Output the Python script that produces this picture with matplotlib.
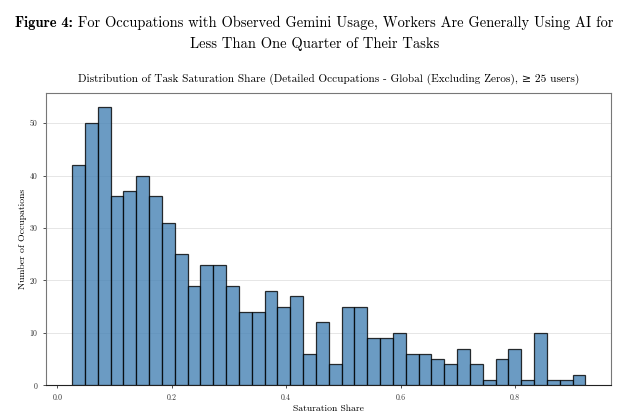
import numpy as np
import matplotlib
matplotlib.use("Agg")
import matplotlib.pyplot as plt

plt.rcParams['font.family'] = ['cmr10', 'DejaVu Serif']
plt.rcParams['mathtext.fontset'] = 'cm'
plt.rcParams['axes.unicode_minus'] = False
plt.rcParams['axes.formatter.use_mathtext'] = False

# Conteos por bin (40 bins entre min y max de la saturación)
share_min = 0.0256
share_max = 0.923
counts = [42, 50, 53, 36, 37, 40, 36, 31, 25, 19,
          23, 23, 19, 14, 14, 18, 15, 17, 6, 12,
          4, 15, 15, 9, 9, 10, 6, 6, 5, 4,
          7, 4, 1, 5, 7, 1, 10, 1, 1, 2]
x_ticks = [0.0, 0.2, 0.4, 0.6, 0.8]
y_ticks = [0, 10, 20, 30, 40, 50]

edges = np.linspace(share_min, share_max, len(counts) + 1)

fig = plt.figure(figsize=(6.44, 4.19), dpi=100)
ax = fig.add_axes([0.0714, 0.0804, 0.8776, 0.6966])

ax.hist(edges[:-1], bins=edges, weights=counts, color='steelblue', alpha=0.8,
        edgecolor='black', linewidth=0.9, zorder=3)

ax.set_xlim(-0.02, 0.968)
ax.set_ylim(0, 55.65)
ax.set_xticks(x_ticks)
ax.set_yticks(y_ticks)
ax.tick_params(labelsize=5.7, length=2.5, width=0.6, colors='#333333')
ax.grid(axis='y', color='#e6e6e6', linewidth=0.7, zorder=0)
for s in ['top', 'left', 'right']:
    ax.spines[s].set_color('#777777')
    ax.spines[s].set_linewidth(0.8)
ax.spines['bottom'].set_color('#222222')
ax.spines['bottom'].set_linewidth(0.8)

ax.set_xlabel('Saturation Share', fontsize=7, labelpad=2)
ax.set_ylabel('Number of Occupations', fontsize=7, labelpad=2)
ax.set_title('Distribution of Task Saturation Share (Detailed Occupations - Global (Excluding Zeros), \u2265 25 users)',
             fontsize=8.1, pad=8)

# Titulo de la figura: parte en negrita + resto, centrado a mano
fs = 10.45
xc = 0.488
bold_part = 'Figure 4:'
rest_part = ' For Occupations with Observed Gemini Usage, Workers Are Generally Using AI for'
renderer = fig.canvas.get_renderer()
t_b = fig.text(0, 0.945, bold_part, fontsize=fs, family=['cmb10', 'DejaVu Serif'], va='center')
t_r = fig.text(0, 0.945, rest_part, fontsize=fs, va='center')
w_b = t_b.get_window_extent(renderer).width / fig.bbox.width
w_r = t_r.get_window_extent(renderer).width / fig.bbox.width
x0 = xc - (w_b + w_r) / 2
t_b.set_x(x0)
t_r.set_x(x0 + w_b)
fig.text(xc, 0.894, 'Less Than One Quarter of Their Tasks', ha='center', va='center', fontsize=fs)

fig.savefig('out.png', dpi=100)
